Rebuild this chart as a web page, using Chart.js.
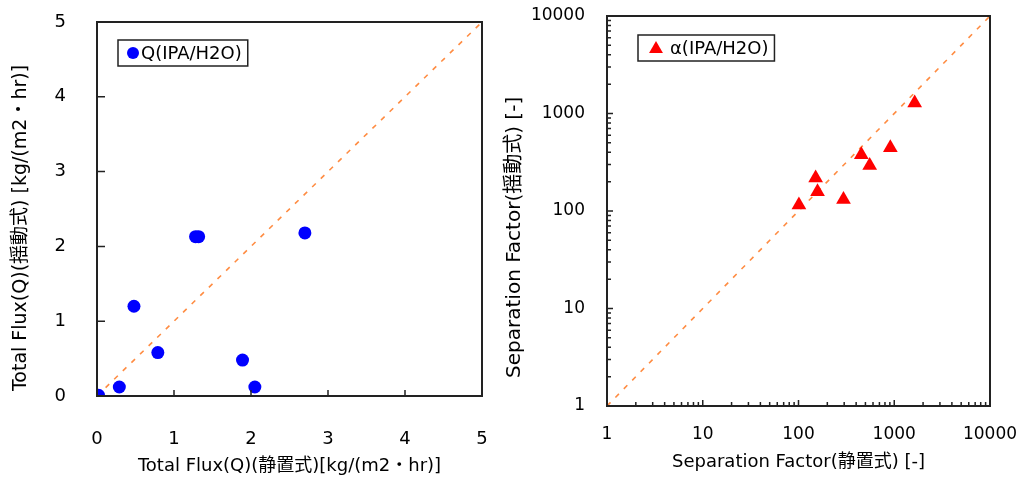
<!DOCTYPE html>
<html>
<head>
<meta charset="utf-8">
<script src="https://cdn.jsdelivr.net/npm/chart.js@4/dist/chart.umd.min.js"></script>
<style>
body{margin:0;background:#fff;width:1019px;height:477px;overflow:hidden;position:relative}
canvas{position:absolute;top:0}
#left{left:0}
#right{left:500px}
</style>
</head>
<body>
<canvas id="left" width="500" height="477"></canvas>
<canvas id="right" width="519" height="477"></canvas>
<script>
// Total flux [kg/(m2・hr)] : static vs shaking
const fluxLabel = 'Q(IPA/H2O)';
const fluxStatic = [0.02, 0.29, 0.48, 0.79, 1.28, 1.32, 1.89, 2.05, 2.70];
const fluxShake  = [0.01, 0.12, 1.20, 0.58, 2.13, 2.13, 0.48, 0.12, 2.18];
const fluxTicks  = [0, 1, 2, 3, 4, 5];

// separation factor [-] : static vs shaking
const sepLabel  = 'α(IPA/H2O)';
const sepStatic = [101, 151, 158, 295, 453, 554, 910, 1634];
const sepShake  = [115, 218, 158, 131, 377, 293, 445, 1285];
const sepTicks  = [1, 10, 100, 1000, 10000];
const sepMinor  = [2, 3, 4, 5, 6, 7, 8, 9];

const FONT = "'DejaVu Sans', 'Noto Sans CJK JP', sans-serif";
const LINE = '#FF8C42';

function toPoints(xs, ys) {
  return xs.map((x, i) => ({x: x, y: ys[i]}));
}

// box around plot + tick marks pointing inward
const frameTicks = {
  id: 'frameTicks',
  afterDatasetsDraw(chart, args, opts) {
    let ctx = chart.ctx, a = chart.chartArea;
    let xs = chart.scales.x, ys = chart.scales.y;
    ctx.save();
    ctx.strokeStyle = '#222';
    ctx.lineWidth = 1.5;
    ctx.beginPath();
    xs.ticks.forEach(t => {
      let len = opts.majors.includes(t.value) ? opts.majorLen : opts.minorLen;
      let px = xs.getPixelForValue(t.value);
      ctx.moveTo(px, a.bottom);
      ctx.lineTo(px, a.bottom - len);
    });
    ys.ticks.forEach(t => {
      let len = opts.majors.includes(t.value) ? opts.majorLenY : opts.minorLen;
      let py = ys.getPixelForValue(t.value);
      ctx.moveTo(a.left, py);
      ctx.lineTo(a.left + len, py);
    });
    ctx.stroke();
    ctx.lineWidth = 2;
    ctx.strokeRect(a.left, a.top, a.right - a.left, a.bottom - a.top);
    ctx.restore();
  }
};

// legend drawn inside the plot, boxed
const boxLegend = {
  id: 'boxLegend',
  afterDraw(chart, args, o) {
    let ctx = chart.ctx, a = chart.chartArea;
    let ds = chart.data.datasets[0];
    ctx.save();
    ctx.font = o.size + 'px ' + FONT;
    let w = ctx.measureText(ds.label).width;
    let x = a.left + o.dx, y = a.top + o.dy;
    let bw = o.textX + w + 6, bh = 26;
    ctx.fillStyle = '#fff';
    ctx.fillRect(x, y, bw, bh);
    ctx.strokeStyle = '#222';
    ctx.lineWidth = 1.5;
    ctx.strokeRect(x, y, bw, bh);
    ctx.fillStyle = ds.backgroundColor;
    Chart.helpers.drawPoint(ctx, {pointStyle: ds.pointStyle, radius: o.r, borderWidth: 0, rotation: 0}, x + o.markX, y + bh / 2 + o.markDy);
    ctx.fillStyle = '#000';
    ctx.textBaseline = 'middle';
    ctx.fillText(ds.label, x + o.textX, y + bh / 2 + 1);
    ctx.restore();
  }
};

function axisTitle(text, size, pad) {
  return {display: true, text: text, color: '#000', font: {family: FONT, size: size}, padding: pad};
}

// fixed box sizes so the plot areas sit where the original ones are
function fixX(h) {
  return s => { s.height = h; s.paddingLeft = 0; s.paddingRight = 0; };
}
function fixY(w) {
  return s => { s.width = w; s.paddingTop = 0; s.paddingBottom = 0; };
}

// left: total flux
new Chart(document.getElementById('left'), {
  type: 'scatter',
  data: {
    datasets: [{
      label: fluxLabel,
      data: toPoints(fluxStatic, fluxShake),
      pointStyle: 'circle',
      pointRadius: 6.5,
      backgroundColor: '#0000FF',
      borderWidth: 0
    }, {
      label: '',
      data: toPoints([fluxTicks[0], fluxTicks[fluxTicks.length - 1]], [fluxTicks[0], fluxTicks[fluxTicks.length - 1]]),
      showLine: true,
      borderColor: LINE,
      borderWidth: 1.6,
      borderDash: [5, 7],
      pointRadius: 0
    }]
  },
  options: {
    responsive: false,
    animation: false,
    layout: {padding: {top: 22, right: 18, left: 0, bottom: 0}},
    scales: {
      x: {
        type: 'linear', min: 0, max: 5,
        afterBuildTicks: s => { s.ticks = fluxTicks.map(v => ({value: v})); },
        ticks: {color: '#000', font: {family: FONT, size: 18}, padding: 33},
        grid: {display: false, drawTicks: false}, border: {display: false},
        title: axisTitle('Total Flux(Q)(静置式)[kg/(m2・hr)]', 18, {top: 0, bottom: 0}),
        afterFit: fixX(81)
      },
      y: {
        type: 'linear', min: 0, max: 5,
        afterBuildTicks: s => { s.ticks = fluxTicks.map(v => ({value: v})); },
        ticks: {color: '#000', font: {family: FONT, size: 18}, padding: 31},
        grid: {display: false, drawTicks: false}, border: {display: false},
        title: axisTitle('Total Flux(Q)(揺動式) [kg/(m2・hr)]\u3000\u3000', 19, {top: 10, bottom: 0}),
        afterFit: fixY(97)
      }
    },
    plugins: {
      legend: {display: false},
      tooltip: {enabled: false},
      frameTicks: {majors: [1, 2, 3, 4], majorLen: 6, majorLenY: 8, minorLen: 0},
      boxLegend: {dx: 21, dy: 18, size: 18, r: 6, markX: 15, markDy: 0, textX: 23}
    }
  },
  plugins: [frameTicks, boxLegend]
});

// right: separation factor (log-log)
function logTickList() {
  let list = [];
  sepTicks.forEach((d, i) => {
    list.push({value: d});
    if (i < sepTicks.length - 1) sepMinor.forEach(m => list.push({value: d * m}));
  });
  return list;
}

new Chart(document.getElementById('right'), {
  type: 'scatter',
  data: {
    datasets: [{
      label: sepLabel,
      data: toPoints(sepStatic, sepShake),
      pointStyle: 'triangle',
      pointRadius: 8.5,
      backgroundColor: '#FF0000',
      borderWidth: 0
    }, {
      label: '',
      data: toPoints([sepTicks[0], sepTicks[sepTicks.length - 1]], [sepTicks[0], sepTicks[sepTicks.length - 1]]),
      showLine: true,
      borderColor: LINE,
      borderWidth: 1.6,
      borderDash: [5, 7],
      pointRadius: 0
    }]
  },
  options: {
    responsive: false,
    animation: false,
    layout: {padding: {top: 16, right: 29, left: 0, bottom: 0}},
    scales: {
      x: {
        type: 'logarithmic', min: 1, max: 10000,
        afterBuildTicks: s => { s.ticks = logTickList(); },
        ticks: {color: '#000', font: {family: FONT, size: 17}, padding: 18, autoSkip: false, maxRotation: 0,
          callback: v => sepTicks.includes(v) ? String(v) : ''},
        grid: {display: false, drawTicks: false}, border: {display: false},
        title: axisTitle('Separation Factor(静置式) [-]', 18, {top: 0, bottom: 4}),
        afterFit: fixX(71)
      },
      y: {
        type: 'logarithmic', min: 1, max: 10000,
        afterBuildTicks: s => { s.ticks = logTickList(); },
        ticks: {color: '#000', font: {family: FONT, size: 17}, padding: 22, autoSkip: false,
          callback: v => sepTicks.includes(v) ? String(v) : ''},
        grid: {display: false, drawTicks: false}, border: {display: false},
        title: axisTitle('Separation Factor(揺動式) [-]\u3000\u3000  ', 20, {top: 3, bottom: 0}),
        afterFit: fixY(107)
      }
    },
    plugins: {
      legend: {display: false},
      tooltip: {enabled: false},
      frameTicks: {majors: sepTicks, majorLen: 6, majorLenY: 6, minorLen: 4},
      boxLegend: {dx: 31, dy: 19, size: 18, r: 8, markX: 18, markDy: 1, textX: 32}
    }
  },
  plugins: [frameTicks, boxLegend]
});
</script>
</body>
</html>
